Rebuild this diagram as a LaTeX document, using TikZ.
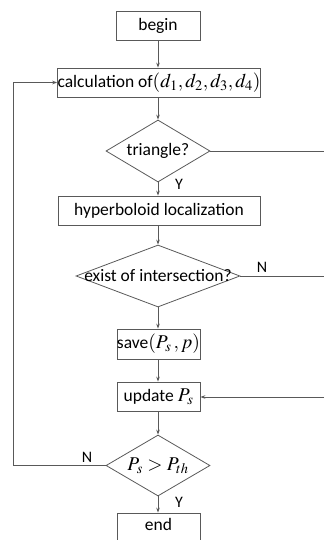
\documentclass[tikz,border=0pt]{standalone}
\usepackage{mathptmx}
\usepackage{fontspec}
\setmainfont{Carlito}
\usetikzlibrary{shapes.geometric,arrows.meta}

% larger setting for the formulas inside the boxes
\newcommand{\fm}[1]{{\fontsize{19.5}{22}\selectfont$#1$}}

\tikzset{
  base/.style={draw=black!65, line width=0.8pt, inner sep=0pt, align=center,
    font=\fontsize{17.5}{21}\selectfont},
  box/.style={base, rectangle},
  dia/.style={base, diamond},
  txt/.style={inner sep=0pt, font=\fontsize{17.5}{21}\selectfont},
  lab/.style={inner sep=0pt, font=\fontsize{16}{19}\selectfont},
  link/.style={draw=black!65, line width=0.8pt},
  arr/.style={link, -{Stealth[length=5pt,width=3.6pt]}}
}

\begin{document}
\begin{tikzpicture}[x=1pt, y=-1pt]
  \useasboundingbox (0,0) rectangle (324,540);
  \clip (0,0) rectangle (324,540);

  % process boxes
  \node[box, minimum width=84pt, minimum height=29pt] (begin) at (158,25.5) {begin};
  \node[box, minimum width=202pt, minimum height=29pt] (calc) at (159,82.5)
    {calculation of\fm{(d_1,d_2,d_3,d_4)}};
  \node[box, minimum width=202pt, minimum height=29pt] (hyp) at (159,210.5)
    {hyperboloid localization};
  \node[box, minimum width=83pt, minimum height=30pt] (save) at (158.5,344)
    {save\fm{(P_s\,,p)}};
  \node[box, minimum width=83pt, minimum height=29pt] (upd) at (158.5,396.5)
    {update \fm{P_s}};
  \node[box, minimum width=83pt, minimum height=34pt] (end) at (158.5,530) {};
  \node[txt] at (158.5,524) {end};

  % decisions
  \node[dia, minimum width=104pt, minimum height=62pt] (tri) at (158,151) {};
  \node[txt] at (tri) {triangle?};
  \node[dia, minimum width=164pt, minimum height=62pt] (exist) at (158,276) {};
  \node[txt] at (exist) {exist of intersection?};
  \node[dia, minimum width=104pt, minimum height=61pt] (cmp) at (158,465.5) {};
  \node[txt] at (cmp) {\fm{P_s>P_{th}}};

  % free ends at the right border and the return path on the left
  \coordinate (r1) at (324,151);
  \coordinate (r2) at (324,276);
  \coordinate (r3) at (324,397);
  \coordinate (l1) at (13,465.5);

  % main flow
  \draw[arr] (begin.south) -- (calc.north -| begin.south);
  \draw[arr] (calc.south -| tri.north) -- (tri.north);
  \draw[arr] (tri.south) -- (hyp.north -| tri.south);
  \draw[arr] (hyp.south -| exist.north) -- (exist.north);
  \draw[arr] (exist.south) -- (save.north -| exist.south);
  \draw[arr] (save.south -| exist.south) -- (upd.north -| exist.south);
  \draw[arr] (upd.south -| exist.south) -- (cmp.north);
  \draw[arr] (cmp.south) -- (end.north -| cmp.south);

  % branches
  \draw[link] (tri.east) -- (r1);
  \draw[link] (exist.east) -- (r2);
  \draw[arr] (r3) -- (upd.east |- r3);
  \draw[arr] (cmp.west) -- (l1) |- (calc.west);

  % branch labels
  \node[lab] at (179,184) {Y};
  \node[lab] at (262,267) {N};
  \node[lab] at (87,457) {N};
  \node[lab] at (179,502) {Y};
\end{tikzpicture}
\end{document}
